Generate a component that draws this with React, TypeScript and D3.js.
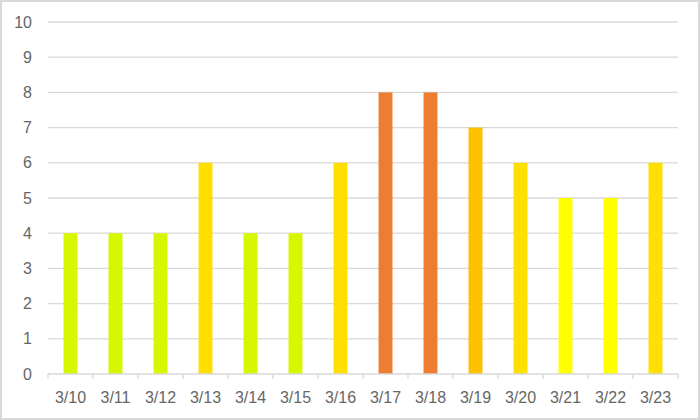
import React from 'react';
import * as d3 from 'd3';

const dates = ['3/10', '3/11', '3/12', '3/13', '3/14', '3/15', '3/16', '3/17', '3/18', '3/19', '3/20', '3/21', '3/22', '3/23'];
const counts = [4, 4, 4, 6, 4, 4, 6, 8, 8, 7, 6, 5, 5, 6];
const yTicks = [0, 1, 2, 3, 4, 5, 6, 7, 8, 9, 10];

// bar colour depends on the value
const colorByValue: Record<number, string> = {
  4: '#d6f700',
  5: '#ffff00',
  6: '#ffdf00',
  7: '#ffc000',
  8: '#ed7d31',
};

const width = 700;
const height = 420;
const margin = { top: 22, right: 22, bottom: 46, left: 48 };

export default function App() {
  const innerW = width - margin.left - margin.right;
  const innerH = height - margin.top - margin.bottom;

  const x = d3.scaleBand<string>().domain(dates).range([0, innerW]).paddingInner(0.69).paddingOuter(0.345);
  const xEdges = d3.scaleBand<string>().domain(dates).range([0, innerW]);
  const y = d3.scaleLinear().domain([0, 10]).range([innerH, 0]);

  return (
    <div style={{ position: 'fixed', left: 0, top: 0 }}>
      <svg width={width} height={height} style={{ display: 'block', fontFamily: '"Liberation Sans", Arial, sans-serif' }}>
        <rect x={1} y={1} width={width - 2} height={height - 2} fill="#fff" stroke="#d9d9d9" strokeWidth={2} />
        <g transform={`translate(${margin.left},${margin.top})`}>
          {/* grid */}
          {yTicks.map((t) => (
            <g key={t}>
              {t > 0 && <line x1={0} x2={innerW} y1={y(t)} y2={y(t)} stroke="#d9d9d9" strokeWidth={1.3} />}
              <text x={-16} y={y(t)} dy="0.35em" textAnchor="end" fontSize={16} fill="#666">
                {t}
              </text>
            </g>
          ))}
          {/* bars */}
          {dates.map((d, i) => (
            <rect
              key={d}
              x={x(d)}
              y={y(counts[i])}
              width={x.bandwidth()}
              height={innerH - y(counts[i])}
              fill={colorByValue[counts[i]]}
            />
          ))}
          {/* x axis */}
          <line x1={0} x2={innerW} y1={innerH} y2={innerH} stroke="#d9d9d9" strokeWidth={1.3} />
          {dates.map((d) => (
            <line key={'t' + d} x1={xEdges(d)} x2={xEdges(d)} y1={innerH} y2={innerH + 5} stroke="#d9d9d9" strokeWidth={1.3} />
          ))}
          <line x1={innerW} x2={innerW} y1={innerH} y2={innerH + 5} stroke="#d9d9d9" strokeWidth={1.3} />
          {dates.map((d) => (
            <text
              key={'l' + d}
              x={(xEdges(d) ?? 0) + xEdges.bandwidth() / 2}
              y={innerH + 23}
              dy="0.35em"
              textAnchor="middle"
              fontSize={16}
              fill="#666"
            >
              {d}
            </text>
          ))}
        </g>
      </svg>
    </div>
  );
}
